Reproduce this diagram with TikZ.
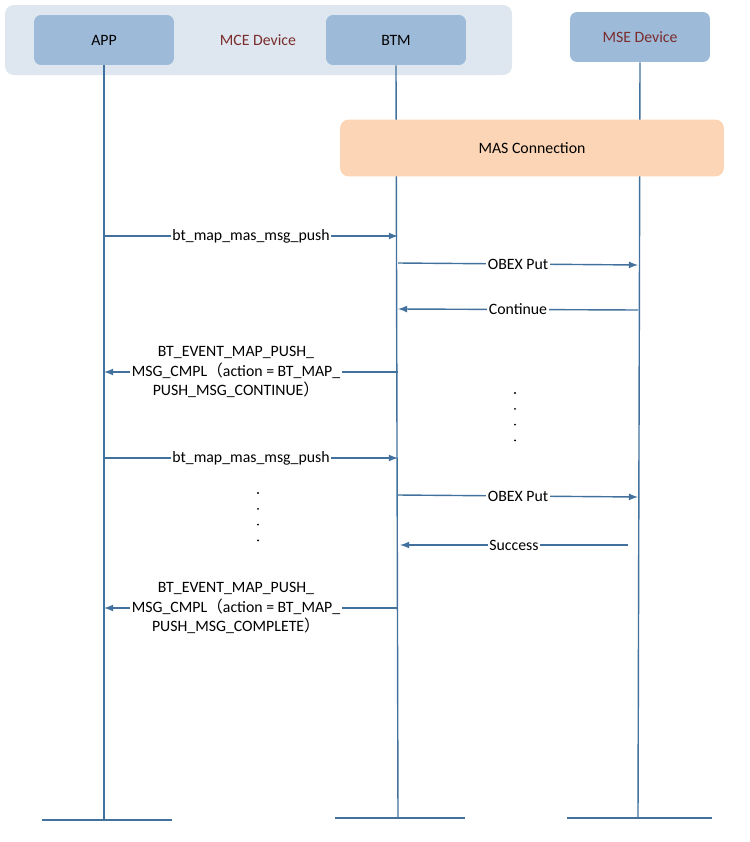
\documentclass[tikz,border=0pt]{standalone}
\usepackage{fontspec}
\setmainfont{Carlito}
\newfontfamily\cjk{Noto Sans CJK SC}
\usetikzlibrary{positioning}
\definecolor{lifeblue}{HTML}{41719C}
\definecolor{boxblue}{HTML}{9DBBD9}
\definecolor{groupblue}{HTML}{DEE7F0}
\definecolor{masorange}{HTML}{FBD5B5}
\definecolor{devred}{HTML}{7B2C2C}
\tikzset{
	actor/.style={fill=boxblue, rounded corners=4pt, minimum width=2.8cm, minimum height=1cm, font=\fontsize{9}{11}\selectfont},
	life/.style={lifeblue, thick},
	msg/.style={lifeblue, thick, -latex},
	lbl/.style={fill=white, inner sep=1pt, text=black, font=\fontsize{9}{11}\selectfont, align=center}
}
\newcommand{\lp}{{\cjk （}}
\newcommand{\rp}{{\cjk ）}}
\begin{document}
\begin{tikzpicture}[x=0.02cm, y=-0.02cm]
	\useasboundingbox (0,0) rectangle (750,842);
	\fill [groupblue, rounded corners=5pt] (5,5) rectangle (512,75);
	\node [actor](APP)at (104,40) {APP};
	\node [actor](BTM)at (396,40) {BTM};
	\node [actor, text=devred](MSE)at (640,37) {MSE Device};
	\node [text=devred, font=\fontsize{9}{11}\selectfont](MCE)at (258,40) {MCE Device};
	\coordinate (APPend) at (104,820);
	\coordinate (BTMend) at (398,818);
	\coordinate (MSEend) at (638,818);
	\draw [life](APP.south)--(APPend);
	\draw [life](BTM.south)--(BTMend);
	\draw [life](MSE.south)--(MSEend);
	\draw [life](42,820)--(172,820);
	\draw [life](335,818)--(465,818);
	\draw [life](567,818)--(712,818);
	\node [fill=masorange, rounded corners=5pt, minimum width=7.68cm, minimum height=1.14cm, font=\fontsize{9}{11}\selectfont](MAS)at (532,148) {MAS Connection};

	\draw [msg](104,236)--node[lbl]{bt\_map\_mas\_msg\_push}(398,236);
	\draw [msg](398,263)--node[lbl]{OBEX Put}(638,265);
	\draw [msg](638,310)--node[lbl]{Continue}(398,309);
	\draw [lifeblue, thick, -latex](398,372)--node[lbl, pos=0.5, xshift=-0.3cm]{BT\_EVENT\_MAP\_PUSH\_\\MSG\_CMPL\lp action = BT\_MAP\_\\PUSH\_MSG\_CONTINUE\rp}(104,372);
	\draw [msg](104,458)--node[lbl]{bt\_map\_mas\_msg\_push}(398,458);
	\draw [msg](398,495)--node[lbl]{OBEX Put}(638,497);
	\draw [msg](628,545)--node[lbl]{Success}(400,545);
	\draw [lifeblue, thick, -latex](398,608)--node[lbl, pos=0.5, xshift=-0.3cm]{BT\_EVENT\_MAP\_PUSH\_\\MSG\_CMPL\lp action = BT\_MAP\_\\PUSH\_MSG\_COMPLETE\rp}(104,608);

	\draw [dotted, very thick, line cap=round, dash pattern=on 0pt off 9pt](515,393)--(515,445);
	\draw [dotted, very thick, line cap=round, dash pattern=on 0pt off 9pt](258,493)--(258,548);
\end{tikzpicture}
\end{document}
